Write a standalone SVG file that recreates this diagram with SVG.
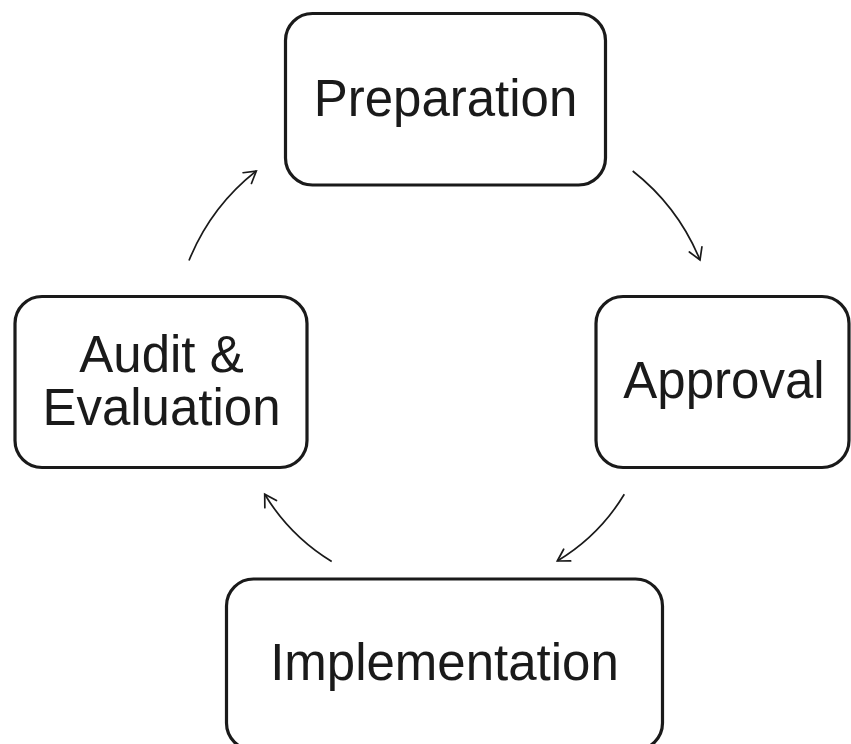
<svg xmlns="http://www.w3.org/2000/svg" width="851" height="744" viewBox="0 0 851 744">
  <style>
    .box { fill: #ffffff; stroke: #1a1a1a; stroke-width: 3.2; }
    .label { font-family: "Liberation Sans", Arial, sans-serif; font-size: 51px; fill: #1a1a1a; text-anchor: middle; }
    .conn { fill: none; stroke: #1a1a1a; stroke-width: 1.7; marker-end: url(#arrow); }
  </style>
  <defs>
    <marker id="arrow" markerUnits="userSpaceOnUse" markerWidth="20" markerHeight="20" viewBox="-16 -10 20 20" refX="0" refY="0" orient="auto">
      <path d="M-11.5,-6.8 L0,0 L-11.5,6.8" fill="none" stroke="#1a1a1a" stroke-width="1.7" stroke-linecap="round" stroke-linejoin="miter"/>
    </marker>
  </defs>
  <rect width="851" height="744" fill="#ffffff"/>

  <g id="connectors">
    <path class="conn" d="M632.7,171 Q678,206.5 700,260"/>
    <path class="conn" d="M624.3,494.3 Q599,536 557.3,561"/>
    <path class="conn" d="M331.7,561.5 Q290,536 264.7,494.3"/>
    <path class="conn" d="M189,260.5 Q211,206.5 256.3,171"/>
  </g>

  <g id="node-preparation">
    <rect class="box" x="285.5" y="13.5" width="320" height="171.5" rx="27" ry="27"/>
    <text class="label" x="445.5" y="115.5">Preparation</text>
  </g>

  <g id="node-approval">
    <rect class="box" x="596" y="296.5" width="253" height="171" rx="27" ry="27"/>
    <text class="label" x="724" y="397.5">Approval</text>
  </g>

  <g id="node-implementation">
    <rect class="box" x="226.5" y="579" width="436" height="171" rx="27" ry="27"/>
    <text class="label" x="444.5" y="680">Implementation</text>
  </g>

  <g id="node-audit">
    <rect class="box" x="15" y="296.5" width="292" height="171" rx="27" ry="27"/>
    <text class="label" x="161.5" y="372">Audit &amp;</text>
    <text class="label" x="161.5" y="425">Evaluation</text>
  </g>
</svg>
